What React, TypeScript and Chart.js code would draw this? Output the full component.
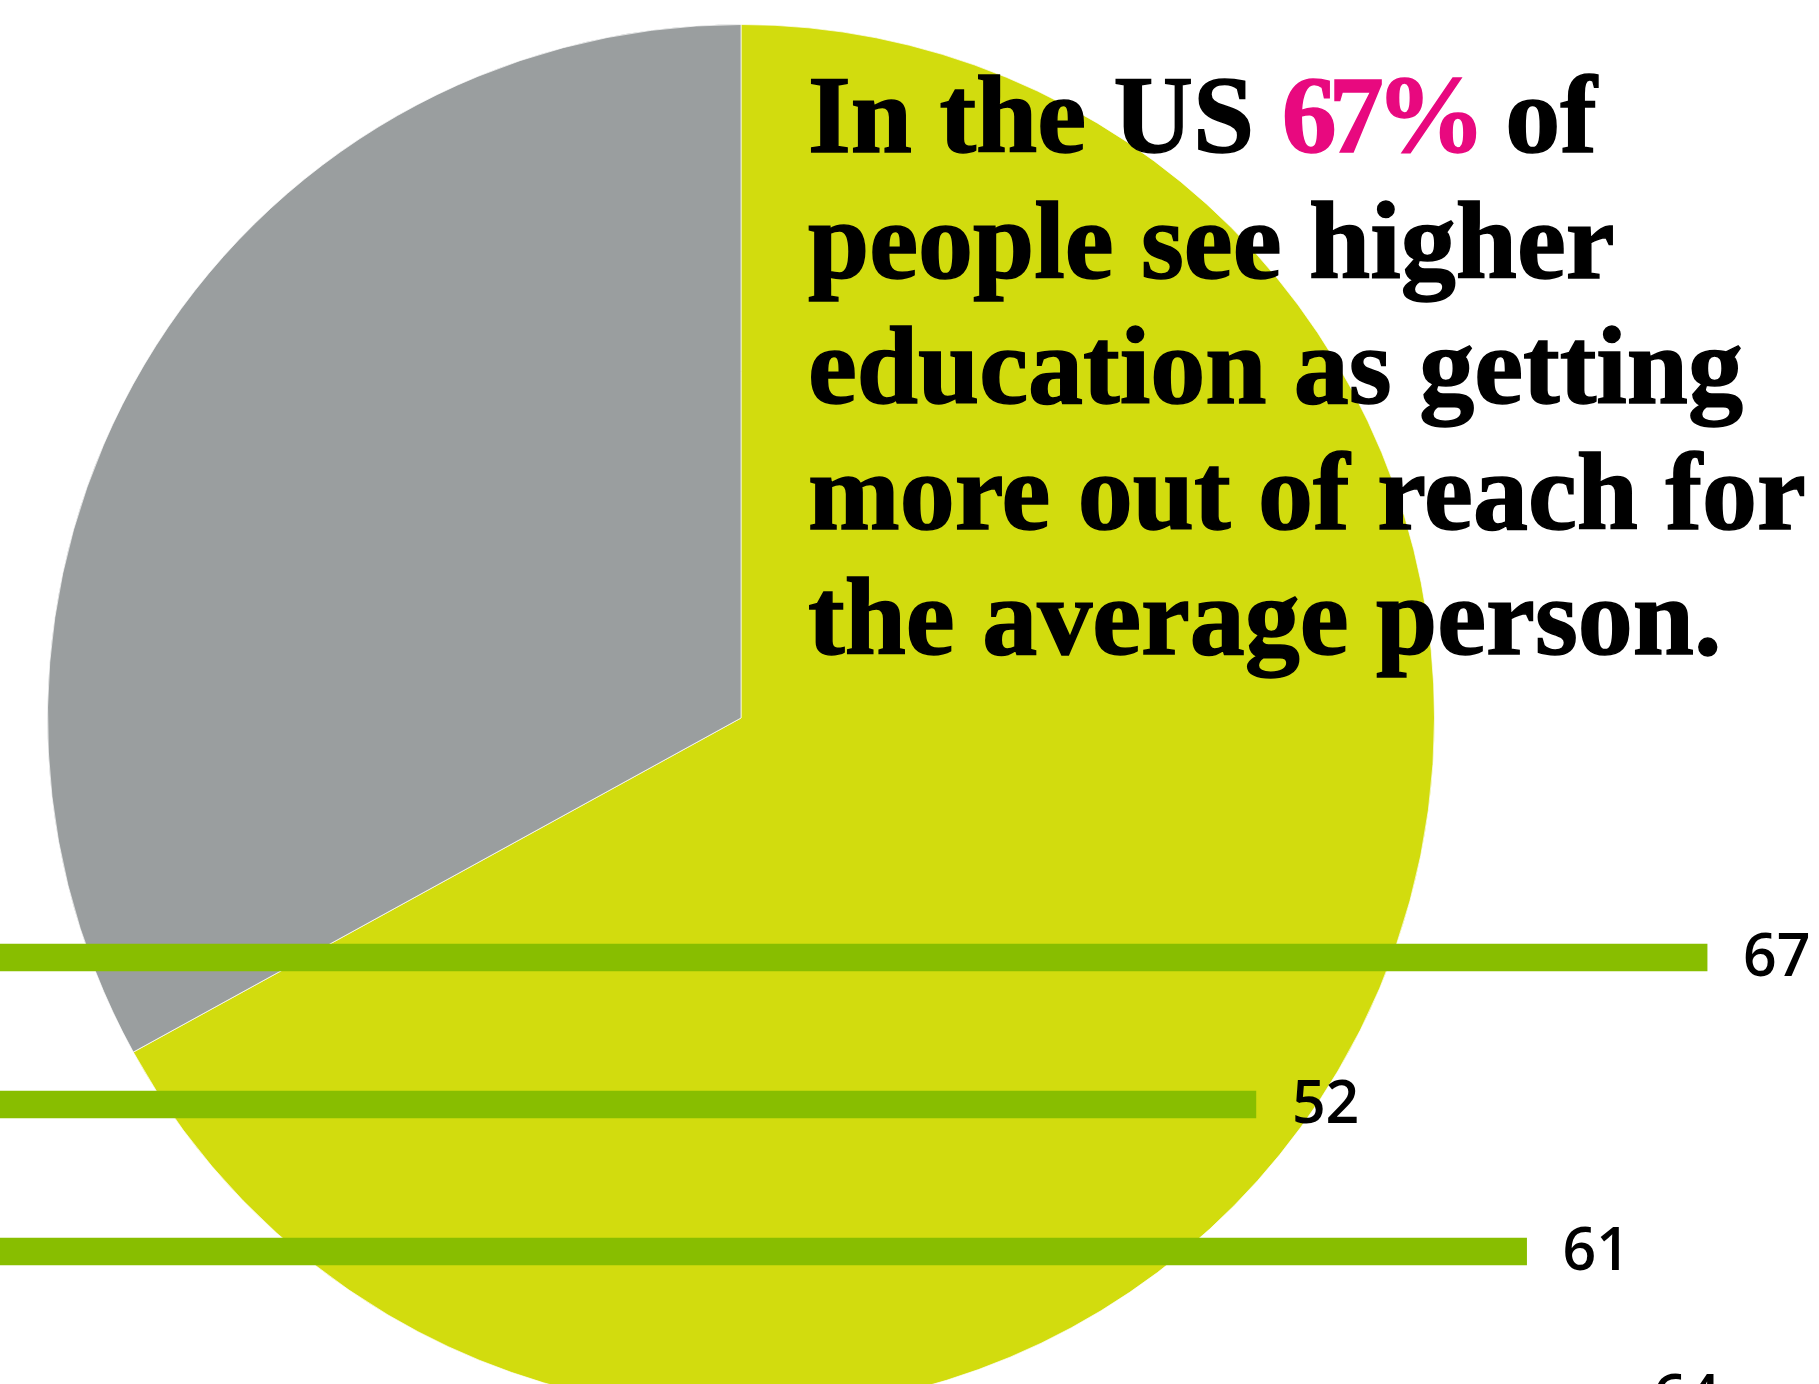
import React, { useEffect, useRef } from "react";
import { Chart, registerables } from "chart.js";

Chart.register(...registerables);

// ---- Data ----
const pieLabels = ["Higher education getting out of reach", "Other"];
const pieValues = [67, 33];
const pieColors = ["#D2DC0E", "#9A9E9F"];

const barCategories = ["Row 1", "Row 2", "Row 3", "Row 4"];
const barValues = [67, 52, 61, 64];
const barColor = "#88BE00";

const titleLines = [
  ["In the US ", "67%", " of"],
  ["people see higher"],
  ["education as getting"],
  ["more out of reach for"],
  ["the average person."],
];

const PAGE_W = 1819;
const PAGE_H = 1384;

const barLabelPlugin = {
  id: "barLabels",
  afterDatasetsDraw(chart: any) {
    const ctx = chart.ctx;
    const meta = chart.getDatasetMeta(0);
    ctx.save();
    ctx.font = "600 59px 'Open Sans'";
    ctx.fillStyle = "#000";
    ctx.textAlign = "left";
    ctx.textBaseline = "middle";
    meta.data.forEach((el: any, i: number) => {
      ctx.fillText(String(barValues[i]), el.x + 36, el.y + 2);
    });
    ctx.restore();
  },
};

export default function App() {
  const pieRef = useRef<HTMLCanvasElement>(null);
  const barRef = useRef<HTMLCanvasElement>(null);

  useEffect(() => {
    const pie = new Chart(pieRef.current as HTMLCanvasElement, {
      type: "pie",
      data: {
        labels: pieLabels,
        datasets: [
          {
            data: pieValues,
            backgroundColor: pieColors,
            borderColor: "rgba(255,255,255,0.7)",
            borderWidth: 1,
          },
        ],
      },
      options: {
        responsive: false,
        animation: false,
        devicePixelRatio: 1,
        layout: { padding: 0 },
        plugins: { legend: { display: false }, tooltip: { enabled: false }, title: { display: false } },
      },
    });

    const bar = new Chart(barRef.current as HTMLCanvasElement, {
      type: "bar",
      data: {
        labels: barCategories,
        datasets: [
          {
            data: barValues,
            backgroundColor: barColor,
            borderWidth: 0,
            barThickness: 27,
          },
        ],
      },
      options: {
        indexAxis: "y",
        responsive: false,
        animation: false,
        devicePixelRatio: 1,
        layout: { padding: 0 },
        scales: {
          x: { type: "linear", display: false, min: 10.25, max: 70.72 },
          y: { type: "category", display: false },
        },
        plugins: { legend: { display: false }, tooltip: { enabled: false }, title: { display: false } },
      },
      plugins: [barLabelPlugin],
    });

    return () => {
      pie.destroy();
      bar.destroy();
    };
  }, []);

  return (
    <div
      style={{
        position: "fixed",
        left: 0,
        top: 0,
        width: PAGE_W,
        height: PAGE_H,
        overflow: "hidden",
        background: "#fff",
      }}
    >
      <canvas
        ref={pieRef}
        width={1388}
        height={1388}
        style={{ position: "absolute", left: 47, top: 24, width: 1388, height: 1388 }}
      />
      <canvas
        ref={barRef}
        width={PAGE_W}
        height={588}
        style={{ position: "absolute", left: 0, top: 884, width: PAGE_W, height: 588 }}
      />
      <div
        style={{
          position: "absolute",
          left: 808,
          top: 53,
          fontFamily: "'Liberation Serif', serif",
          fontWeight: 700,
          fontSize: 110,
          lineHeight: "125.5px",
          color: "#000",
          whiteSpace: "nowrap",
          WebkitTextStroke: "1.5px #000",
        }}
      >
        {titleLines.map((parts, i) => (
          <div key={i}>
            {parts.map((p, j) =>
              p === "67%" ? (
                <span
                  key={j}
                  style={{ color: "#E8097F", WebkitTextStroke: "1.5px #E8097F", letterSpacing: "-8px" }}
                >
                  {p}
                </span>
              ) : (
                <span key={j}>{p}</span>
              )
            )}
          </div>
        ))}
      </div>
    </div>
  );
}
